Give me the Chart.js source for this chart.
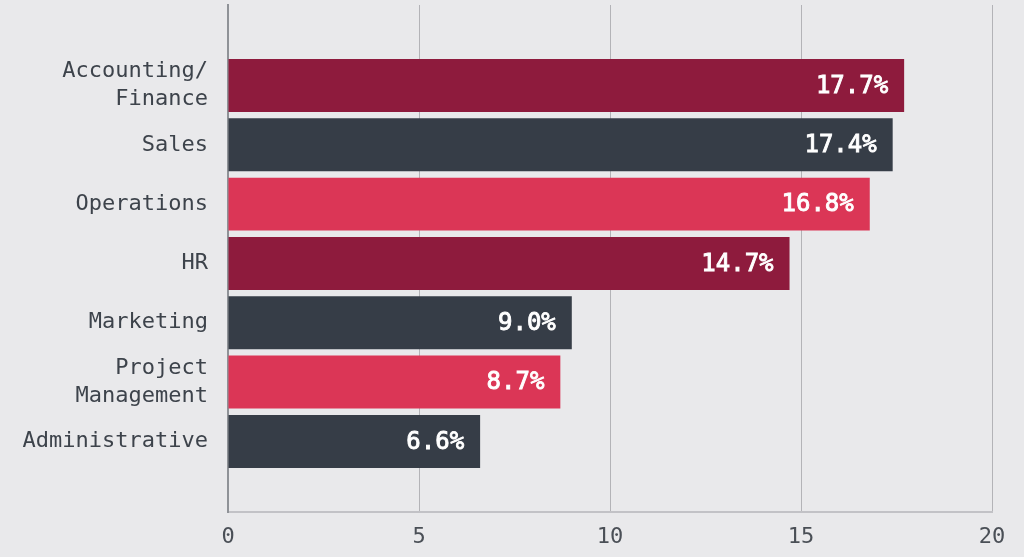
<!DOCTYPE html>
<html>
<head>
<meta charset="utf-8">
<script src="https://cdn.jsdelivr.net/npm/chart.js@4.4.1/dist/chart.umd.min.js"></script>
<style>
  html, body { margin: 0; padding: 0; background: #e9e9eb; }
  #wrap { width: 1024px; height: 557px; }
</style>
</head>
<body>
<div id="wrap"><canvas id="chart" width="1024" height="557"></canvas></div>
<script>
// departments, top to bottom
const categories = [
    ["Accounting/", "Finance"],
    "Sales",
    "Operations",
    "HR",
    "Marketing",
    ["Project", "Management"],
    "Administrative",
];
const shares = [17.7, 17.4, 16.8, 14.7, 9.0, 8.7, 6.6];
const barColors = ["#8e1b3d", "#363d47", "#db3656", "#8e1b3d", "#363d47", "#db3656", "#363d47"];
const xTicks = [0, 5, 10, 15, 20];

const MONO = "'DejaVu Sans Mono', 'Liberation Mono', monospace";

// white percentage inside the end of each bar
const valueLabels = {
    id: "valueLabels",
    afterDatasetsDraw(chart) {
        const ctx = chart.ctx;
        const meta = chart.getDatasetMeta(0);
        ctx.save();
        ctx.font = "24px " + MONO;
        ctx.fillStyle = "#ffffff";
        ctx.strokeStyle = "#ffffff";
        ctx.lineWidth = 0.9;
        ctx.textAlign = "right";
        ctx.textBaseline = "middle";
        meta.data.forEach((bar, i) => {
            const txt = shares[i].toFixed(1) + "%";
            ctx.fillText(txt, bar.x - 16, bar.y + 1);
            ctx.strokeText(txt, bar.x - 16, bar.y + 1);
        });
        ctx.restore();
    }
};

new Chart(document.getElementById("chart"), {
    type: "bar",
    data: {
        datasets: [{
            data: shares.map((v, i) => ({ x: v, y: i })),
            backgroundColor: barColors,
            borderWidth: 0,
            barPercentage: 0.893,
            categoryPercentage: 1,
        }]
    },
    options: {
        indexAxis: "y",
        responsive: false,
        animation: false,
        devicePixelRatio: 1,
        layout: { padding: { top: 5, right: 32, left: 0, bottom: 0 } },
        plugins: {
            legend: { display: false },
            tooltip: { enabled: false },
        },
        scales: {
            x: {
                type: "linear",
                min: 0,
                max: 20,
                bounds: "data",
                afterBuildTicks: (axis) => { axis.ticks = xTicks.map(v => ({ value: v })); },
                afterFit: (axis) => { axis.height = 45; },
                grid: { color: "#b3b3b7", lineWidth: 1, drawTicks: false },
                border: { display: true, color: "#c2c2c6", width: 2 },
                ticks: {
                    color: "#4a4f56",
                    font: { family: MONO, size: 22 },
                    padding: 12,
                },
            },
            y: {
                type: "linear",
                reverse: true,
                bounds: "data",
                offset: false,
                min: -1.357,
                max: 7.19,
                afterBuildTicks: (axis) => { axis.ticks = categories.map((_, i) => ({ value: i })); },
                afterFit: (axis) => {
                    axis.width = 228;
                    axis.paddingTop = 0;
                    axis.paddingBottom = 0;
                },
                grid: { display: false, drawTicks: false, offset: false },
                border: { display: true, color: "#8f9297", width: 2 },
                ticks: {
                    color: "#3d434b",
                    font: { family: MONO, size: 22, lineHeight: 1.27 },
                    padding: 20,
                    autoSkip: false,
                    callback: (value) => categories[value],
                },
            },
        },
    },
    plugins: [valueLabels],
});
</script>
</body>
</html>
